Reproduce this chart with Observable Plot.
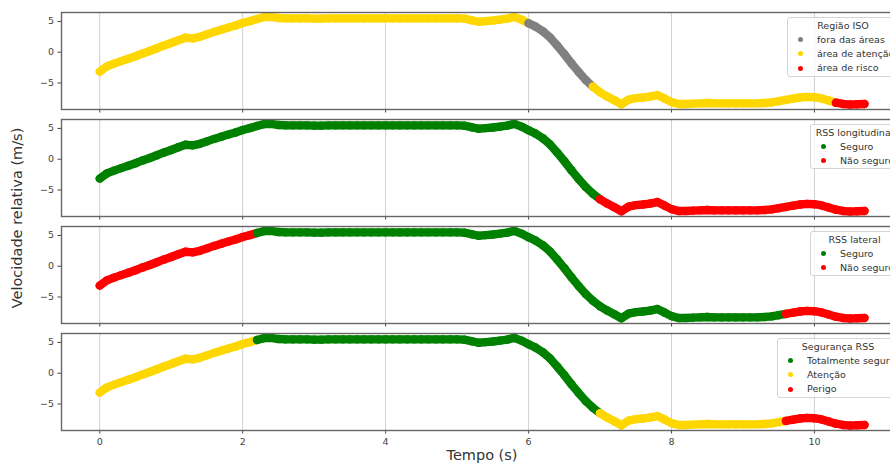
<!DOCTYPE html>
<html>
<head>
<meta charset="utf-8">
<script src="https://cdn.jsdelivr.net/npm/d3@7"></script>
<script src="https://cdn.jsdelivr.net/npm/@observablehq/plot@0.6"></script>
<style>
  html, body { margin: 0; padding: 0; background: #fff; }
  #wrap { position: relative; width: 890px; height: 463px; overflow: hidden; font-family: "DejaVu Sans", sans-serif; color: #333; }
  .panel { position: absolute; left: 0; }
  .legend { position: absolute; box-sizing: border-box; background: rgba(255,255,255,0.8); border: 1px solid #d4d4d4; border-radius: 3px; font-size: 9.5px; color: #333; }
  .legend .title { position: absolute; left: 0; right: 0; text-align: center; white-space: nowrap; line-height: 1; }
  .legend .item { position: absolute; left: 0; white-space: nowrap; line-height: 1; }
  .legend .mk { position: absolute; width: 5px; height: 5px; border-radius: 50%; }
  .legend .lb { position: absolute; }
  #ylab { position: absolute; left: 17px; top: 218px; transform: translate(-50%, -50%) rotate(-90deg); font-size: 14.5px; white-space: nowrap; color: #333; }
  #xlab { position: absolute; left: 482px; top: 455px; transform: translate(-50%, -50%); font-size: 14.5px; white-space: nowrap; color: #333; }
</style>
</head>
<body>
<div id="wrap"></div>
<script>
// ---- data ----
const tempo = [
  0.0,0.1,0.2,0.3,0.4,0.5,0.6,0.7,0.8,0.9,
  1.0,1.1,1.2,1.3,1.4,1.5,1.6,1.7,1.8,1.9,
  2.0,2.1,2.2,2.3,2.4,2.5,2.6,2.7,2.8,2.9,
  3.0,3.1,3.2,3.3,3.4,3.5,3.6,3.7,3.8,3.9,
  4.0,4.1,4.2,4.3,4.4,4.5,4.6,4.7,4.8,4.9,
  5.0,5.1,5.2,5.3,5.4,5.5,5.6,5.7,5.8,5.9,
  6.0,6.1,6.2,6.3,6.4,6.5,6.6,6.7,6.8,6.9,
  7.0,7.1,7.2,7.3,7.4,7.5,7.6,7.7,7.8,7.9,
  8.0,8.1,8.2,8.3,8.4,8.5,8.6,8.7,8.8,8.9,
  9.0,9.1,9.2,9.3,9.4,9.5,9.6,9.7,9.8,9.9,
  10.0,10.1,10.2,10.3,10.4,10.5,10.6,10.7
];
const velocidade = [
  -3.15,-2.3,-1.85,-1.45,-1.05,-0.65,-0.2,0.2,0.65,1.1,
  1.5,1.95,2.35,2.25,2.5,2.9,3.3,3.65,4.0,4.35,
  4.75,5.05,5.4,5.7,5.75,5.55,5.5,5.5,5.5,5.5,
  5.45,5.45,5.5,5.5,5.5,5.5,5.5,5.5,5.5,5.5,
  5.5,5.5,5.5,5.5,5.5,5.5,5.5,5.5,5.5,5.5,
  5.5,5.45,5.2,4.95,5.05,5.15,5.3,5.45,5.75,5.3,
  4.7,4.15,3.4,2.4,1.1,-0.3,-1.8,-3.2,-4.5,-5.6,
  -6.5,-7.2,-7.8,-8.45,-7.7,-7.45,-7.35,-7.2,-6.95,-7.5,
  -8.1,-8.4,-8.4,-8.35,-8.3,-8.25,-8.3,-8.3,-8.3,-8.3,
  -8.3,-8.3,-8.3,-8.25,-8.15,-7.95,-7.75,-7.55,-7.35,-7.25,
  -7.3,-7.5,-7.85,-8.2,-8.4,-8.5,-8.45,-8.4
];
// category runs: [start time, category]
const isoRuns = [[0, "área de atenção"], [6.0, "fora das áreas"], [6.9, "área de atenção"], [10.3, "área de risco"]];
const lonRuns = [[0, "Seguro"], [7.0, "Não seguro"]];
const latRuns = [[0, "Não seguro"], [2.2, "Seguro"], [9.6, "Não seguro"]];
const segRuns = [[0, "Atenção"], [2.2, "Totalmente seguro"], [7.0, "Atenção"], [9.6, "Perigo"]];

const categorias = ["fora das áreas", "área de atenção", "área de risco", "Seguro", "Não seguro", "Totalmente seguro", "Atenção", "Perigo"];
const cores = ["#808080", "#FFD700", "#FF0000", "#008000", "#FF0000", "#008000", "#FFD700", "#FF0000"];

const legendTitles = ["Região ISO", "RSS longitudinal", "RSS lateral", "Segurança RSS"];
const legendItems = [
  ["fora das áreas", "área de atenção", "área de risco"],
  ["Seguro", "Não seguro"],
  ["Seguro", "Não seguro"],
  ["Totalmente seguro", "Atenção", "Perigo"]
];
const xTicks = [0, 2, 4, 6, 8, 10];
const yTicks = [-5, 0, 5];
const xLabel = "Tempo (s)";
const yLabel = "Velocidade relativa (m/s)";

// ---- build ----
const runsList = [isoRuns, lonRuns, latRuns, segRuns];
const catAt = (runs, t) => { let c = runs[0][1]; for (const [s, k] of runs) if (t >= s - 1e-9) c = k; return c; };
const colorOf = (k) => cores[categorias.indexOf(k)];

const wrap = document.getElementById("wrap");
const panelTop = [12, 119, 226, 333];
const panelH = 97;
const legendLeft = [787, 810, 810, 777];
const mT = 2;

runsList.forEach((runs, i) => {
  const rows = tempo.map((t, j) => ({t, v: velocidade[j], cat: catAt(runs, t)}));
  const last = i === 3;
  const mB = last ? 26 : 8;
  const chart = Plot.plot({
    width: 914,
    height: mT + panelH + mB,
    marginLeft: 61, marginRight: 10, marginTop: mT, marginBottom: mB,
    style: {fontFamily: "DejaVu Sans, sans-serif", fontSize: "9.5px", color: "#444", background: "transparent", maxWidth: "none", overflow: "visible"},
    x: {domain: [-0.535, 11.26], ticks: xTicks, tickSize: 3.5, tickPadding: 4.5, label: null, tickFormat: last ? (d) => String(d) : () => ""},
    y: {domain: [-9.3, 6.45], ticks: yTicks, tickSize: 3.5, tickPadding: 4, label: null, tickFormat: (d) => d < 0 ? "\u2212" + Math.abs(d) : String(d)},
    color: {type: "ordinal", domain: categorias, range: cores},
    marks: [
      Plot.ruleX(xTicks, {stroke: "#b0b0b0", strokeOpacity: 0.6, strokeWidth: 1}),
      Plot.line(rows, {x: "t", y: "v", stroke: "cat", z: null, strokeWidth: 8.4, strokeLinecap: "round", strokeLinejoin: "round"}),
      Plot.dot(rows, {x: "t", y: "v", fill: "cat", r: 4.2, stroke: null}),
      Plot.frame({stroke: "#666", strokeWidth: 1.4})
    ]
  });
  chart.classList.add("panel");
  chart.style.position = "absolute";
  chart.style.top = (panelTop[i] - mT) + "px";
  chart.style.left = "0px";
  wrap.appendChild(chart);
});

// legends (HTML, inside each panel, upper right)
legendTitles.forEach((title, i) => {
  const items = legendItems[i];
  const box = document.createElement("div");
  box.className = "legend";
  const left = legendLeft[i];
  box.style.left = left + "px";
  box.style.top = (panelTop[i] + 5) + "px";
  box.style.width = (899 - left) + "px";
  box.style.height = (items.length === 3 ? 60 : 45) + "px";
  const tt = document.createElement("div");
  tt.className = "title";
  tt.style.top = "3px";
  tt.textContent = title;
  box.appendChild(tt);
  items.forEach((lab, k) => {
    const cy = 21.5 + 14.4 * k;
    const mk = document.createElement("div");
    mk.className = "mk";
    mk.style.left = (12 - 2.5) + "px";
    mk.style.top = (cy - 2.5) + "px";
    mk.style.background = colorOf(lab);
    box.appendChild(mk);
    const lb = document.createElement("div");
    lb.className = "item";
    lb.style.left = "29px";
    lb.style.top = (cy - 5) + "px";
    lb.textContent = lab;
    box.appendChild(lb);
  });
  wrap.appendChild(box);
});

const yl = document.createElement("div"); yl.id = "ylab"; yl.textContent = yLabel; wrap.appendChild(yl);
const xl = document.createElement("div"); xl.id = "xlab"; xl.textContent = xLabel; wrap.appendChild(xl);
</script>
</body>
</html>
